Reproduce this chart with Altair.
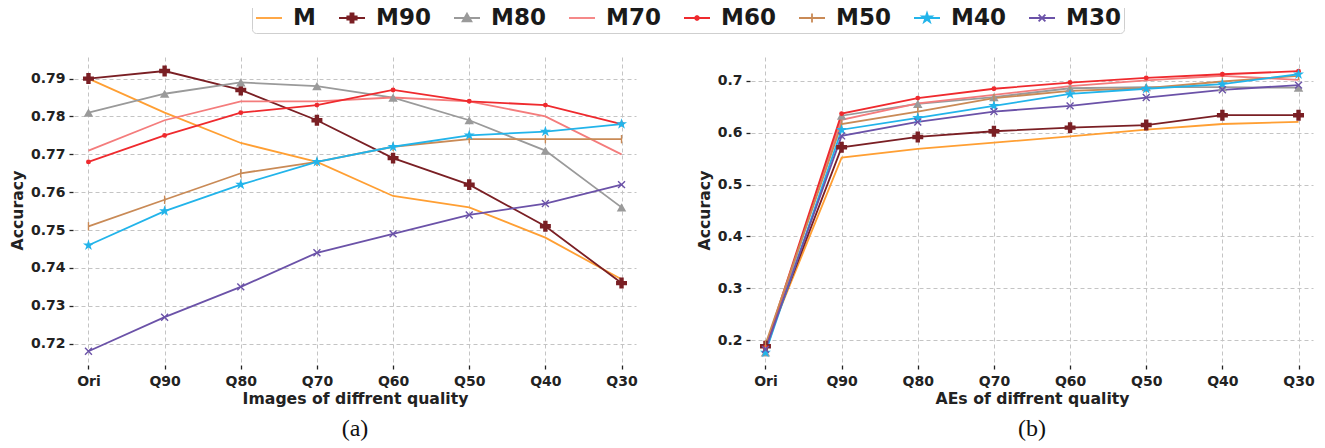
import altair as alt
import pandas as pd

qualities = ["Ori", "Q90", "Q80", "Q70", "Q60", "Q50", "Q40", "Q30"]
series = ["M", "M90", "M80", "M70", "M60", "M50", "M40", "M30"]
colors = ["#ff9f33", "#7a1f24", "#9a9a9a", "#f47c7c", "#ef2a2e", "#c98a56", "#22b4ea", "#6b52a8"]

# (a) accuracy on images of different quality
img_M = [0.790, 0.781, 0.773, 0.768, 0.759, 0.756, 0.748, 0.737]
img_M90 = [0.790, 0.792, 0.787, 0.779, 0.769, 0.762, 0.751, 0.736]
img_M80 = [0.781, 0.786, 0.789, 0.788, 0.785, 0.779, 0.771, 0.756]
img_M70 = [0.771, 0.779, 0.784, 0.784, 0.785, 0.784, 0.780, 0.770]
img_M60 = [0.768, 0.775, 0.781, 0.783, 0.787, 0.784, 0.783, 0.778]
img_M50 = [0.751, 0.758, 0.765, 0.768, 0.772, 0.774, 0.774, 0.774]
img_M40 = [0.746, 0.755, 0.762, 0.768, 0.772, 0.775, 0.776, 0.778]
img_M30 = [0.718, 0.727, 0.735, 0.744, 0.749, 0.754, 0.757, 0.762]

# (b) accuracy on AEs of different quality
ae_M = [0.190, 0.552, 0.569, 0.581, 0.593, 0.606, 0.617, 0.621]
ae_M90 = [0.188, 0.572, 0.592, 0.603, 0.610, 0.615, 0.634, 0.634]
ae_M80 = [0.176, 0.633, 0.656, 0.669, 0.686, 0.688, 0.688, 0.687]
ae_M70 = [0.185, 0.625, 0.657, 0.673, 0.690, 0.701, 0.710, 0.702]
ae_M60 = [0.186, 0.637, 0.667, 0.685, 0.697, 0.706, 0.713, 0.719]
ae_M50 = [0.192, 0.617, 0.641, 0.667, 0.681, 0.686, 0.699, 0.710]
ae_M40 = [0.176, 0.606, 0.629, 0.652, 0.675, 0.685, 0.694, 0.713]
ae_M30 = [0.182, 0.594, 0.621, 0.641, 0.652, 0.668, 0.683, 0.692]

img_vals = [img_M, img_M90, img_M80, img_M70, img_M60, img_M50, img_M40, img_M30]
ae_vals = [ae_M, ae_M90, ae_M80, ae_M70, ae_M60, ae_M50, ae_M40, ae_M30]


def long_df(vals):
    rows = []
    for s, v in zip(series, vals):
        for q, a in zip(qualities, v):
            rows.append({"series": s, "quality": q, "value": a})
    return pd.DataFrame(rows)


STAR = "M0,-1L0.225,-0.309L0.951,-0.309L0.363,0.118L0.588,0.809L0,0.382L-0.588,0.809L-0.363,0.118L-0.951,-0.309L-0.225,-0.309Z"
XMARK = "M-1,-1L1,1M-1,1L1,-1"
VBAR = "M0,-1L0,1"

# plot markers: (series, shape, size, filled)
markers = [
    ("M90", "cross", 120, True),
    ("M80", "triangle-up", 90, True),
    ("M60", "circle", 24, True),
    ("M50", VBAR, 70, False),
    ("M40", STAR, 135, True),
    ("M30", XMARK, 48, False),
]

LINE = "M-1,0L1,0"
leg_paths = [
    LINE,
    LINE + "M-0.36,-0.12L-0.12,-0.12L-0.12,-0.36L0.12,-0.36L0.12,-0.12L0.36,-0.12L0.36,0.12L0.12,0.12L0.12,0.36L-0.12,0.36L-0.12,0.12L-0.36,0.12Z",
    LINE + "M0,-0.34L0.34,0.26L-0.34,0.26Z",
    LINE,
    LINE + "M-0.15,0L-0.106,-0.106L0,-0.15L0.106,-0.106L0.15,0L0.106,0.106L0,0.15L-0.106,0.106Z",
    LINE + "M0,-0.34L0,0.34",
    LINE + "M0,-0.38L0.086,-0.117L0.361,-0.117L0.138,0.045L0.223,0.307L0,0.145L-0.223,0.307L-0.138,0.045L-0.361,-0.117L-0.086,-0.117Z",
    LINE + "M-0.26,-0.26L0.26,0.26M-0.26,0.26L0.26,-0.26",
]

LEG = alt.Legend(
    orient="none",
    legendX=178,
    legendY=-56,
    direction="horizontal",
    columns=8,
    title=None,
    labelFont="DejaVu Sans",
    labelFontSize=23,
    labelFontWeight="bold",
    labelColor="#1a1a1a",
    labelLimit=200,
    labelOffset=10,
    columnPadding=19,
    symbolSize=676,
    symbolStrokeWidth=1.8,
    symbolOpacity=1,
    padding=3,
    strokeColor="#cfcfcf",
    fillColor="white",
    cornerRadius=4,
)

fill_enc = alt.Fill("series:N", scale=alt.Scale(domain=series, range=colors), legend=LEG)
stroke_enc = alt.Stroke("series:N", scale=alt.Scale(domain=series, range=colors), legend=LEG)
shape_enc = alt.Shape("series:N", scale=alt.Scale(domain=series, range=leg_paths), legend=LEG)


def panel(vals, ydomain, yticks, yfmt, xtitle, caption, with_legend):
    df = long_df(vals)
    x = alt.X(
        "quality:N",
        sort=qualities,
        scale=alt.Scale(type="point", padding=0.19),
        axis=alt.Axis(title=xtitle, labelAngle=0, offset=2, labelPadding=5, titlePadding=3),
    )
    y = alt.Y(
        "value:Q",
        scale=alt.Scale(domain=ydomain, nice=False, zero=False),
        axis=alt.Axis(values=yticks, format=yfmt, title="Accuracy", offset=1),
    )
    base = alt.Chart(df).encode(x=x, y=y)
    layers = [base.mark_line(strokeWidth=1.8).encode(stroke=stroke_enc)]
    for s, shape, size, filled in markers:
        sub = base.transform_filter(alt.datum.series == s)
        if filled:
            m = sub.mark_point(shape=shape, size=size, filled=True, opacity=1, strokeWidth=0).encode(fill=fill_enc)
        else:
            m = sub.mark_point(shape=shape, size=size, filled=False, opacity=1, strokeWidth=1.4).encode(stroke=stroke_enc)
        layers.append(m)
    if with_legend:
        leg = base.mark_point(filled=True, opacity=0).encode(shape=shape_enc, fill=fill_enc, stroke=stroke_enc)
        layers.append(leg)
    return alt.layer(*layers).properties(
        width=562,
        height=306,
        title=alt.TitleParams(
            caption,
            orient="bottom",
            anchor="middle",
            font="Liberation Serif",
            fontSize=24,
            fontWeight="normal",
            color="#111111",
            offset=11,
        ),
    )


left = panel(
    img_vals,
    [0.7149, 0.7957],
    [0.72, 0.73, 0.74, 0.75, 0.76, 0.77, 0.78, 0.79],
    ".2f",
    "Images of diffrent quality",
    "(a)",
    True,
)
right = panel(
    ae_vals,
    [0.1557, 0.7463],
    [0.2, 0.3, 0.4, 0.5, 0.6, 0.7],
    ".1f",
    "AEs of diffrent quality",
    "(b)",
    False,
)

chart = (
    alt.hconcat(left, right, spacing=58)
    .properties(padding={"left": 1, "top": -8, "right": 0, "bottom": 0})
    .configure_view(stroke=None)
    .configure_axis(
        domain=False,
        grid=True,
        gridColor="#c4c4c4",
        gridDash=[4, 3],
        gridWidth=1,
        tickColor="#222222",
        tickSize=4,
        tickWidth=1.3,
        labelFont="DejaVu Sans",
        labelFontSize=14,
        labelFontWeight="bold",
        labelColor="#222222",
        labelPadding=4,
        titleFont="DejaVu Sans",
        titleFontSize=15.7,
        titleFontWeight="bold",
        titleColor="#222222",
        titlePadding=5,
    )
)

chart.save("out.html", embed_options={"renderer": "svg", "actions": False})
